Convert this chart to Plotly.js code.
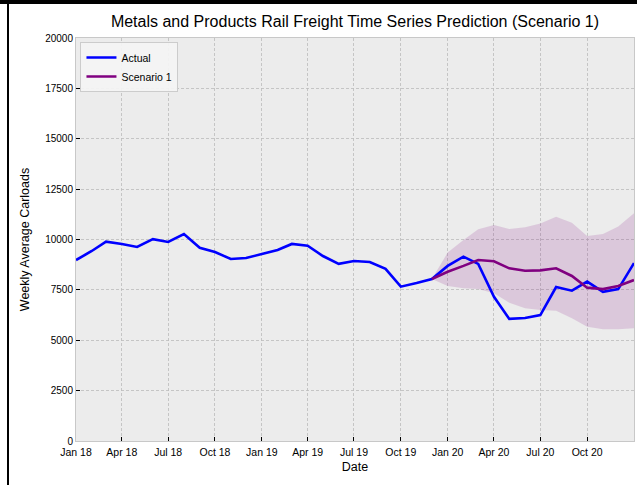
<!DOCTYPE html>
<html>
<head>
<meta charset="utf-8">
<script src="https://cdn.plot.ly/plotly-3.0.1.min.js"></script>
<style>
  html, body { margin: 0; padding: 0; background: #ffffff; }
  #wrap { position: relative; width: 637px; height: 485px; overflow: hidden; }
  #chart { position: absolute; left: 0; top: 0; width: 637px; height: 485px; }
  #topbar { position: absolute; left: 0; top: 0; width: 637px; height: 4px; background: #000; }
  #leftbar { position: absolute; left: 7px; top: 0; width: 2px; height: 485px; background: #000; }
</style>
</head>
<body>
<div id="wrap">
  <div id="chart"></div>
  <div id="topbar"></div>
  <div id="leftbar"></div>
</div>
<script>
// Monthly dates, Jan 2018 - Jan 2021
const actualDates = [
  '2018-01-01','2018-02-01','2018-03-01','2018-04-01','2018-05-01','2018-06-01',
  '2018-07-01','2018-08-01','2018-09-01','2018-10-01','2018-11-01','2018-12-01',
  '2019-01-01','2019-02-01','2019-03-01','2019-04-01','2019-05-01','2019-06-01',
  '2019-07-01','2019-08-01','2019-09-01','2019-10-01','2019-11-01','2019-12-01',
  '2020-01-01','2020-02-01','2020-03-01','2020-04-01','2020-05-01','2020-06-01',
  '2020-07-01','2020-08-01','2020-09-01','2020-10-01','2020-11-01','2020-12-01',
  '2021-01-01'
];
const actualValues = [
  8980, 9430, 9890, 9780, 9630, 10020,
  9880, 10270, 9590, 9380, 9030, 9080,
  9280, 9480, 9780, 9690, 9180, 8790,
  8930, 8880, 8540, 7660, 7840, 8040,
  8690, 9150, 8790, 7160, 6060, 6100,
  6250, 7640, 7460, 7910, 7400, 7540,
  8830
];

const scenarioDates = [
  '2019-12-01','2020-01-01','2020-02-01','2020-03-01','2020-04-01','2020-05-01',
  '2020-06-01','2020-07-01','2020-08-01','2020-09-01','2020-10-01','2020-11-01',
  '2020-12-01','2021-01-01'
];
const scenarioValues = [
  8040, 8400, 8690, 8980, 8920, 8570,
  8450, 8470, 8570, 8190, 7610, 7540,
  7690, 7990
];
const scenarioUpper = [
  8040, 9350, 9980, 10510, 10720, 10520,
  10610, 10800, 11130, 10830, 10170, 10270,
  10640, 11300
];
const scenarioLower = [
  8040, 7690, 7580, 7540, 7330, 6860,
  6590, 6500, 6470, 6090, 5670, 5540,
  5540, 5590
];

const yTicks = [0, 2500, 5000, 7500, 10000, 12500, 15000, 17500, 20000];

const traces = [
  {
    x: scenarioDates, y: scenarioLower, type: 'scatter', mode: 'lines',
    line: {width: 0, color: 'rgba(128,0,128,0)'}, showlegend: false, hoverinfo: 'skip'
  },
  {
    x: scenarioDates, y: scenarioUpper, type: 'scatter', mode: 'lines',
    fill: 'tonexty', fillcolor: 'rgba(128,0,128,0.15)',
    line: {width: 0, color: 'rgba(128,0,128,0)'}, showlegend: false, hoverinfo: 'skip'
  },
  {
    x: actualDates, y: actualValues, type: 'scatter', mode: 'lines',
    name: 'Actual', line: {color: '#0000ff', width: 2.6}
  },
  {
    x: scenarioDates, y: scenarioValues, type: 'scatter', mode: 'lines',
    name: 'Scenario 1', line: {color: '#800080', width: 2.6}
  }
];

const font = 'Liberation Sans, Arial, Helvetica, sans-serif';

const layout = {
  width: 637, height: 485,
  margin: {l: 76, r: 3, t: 38, b: 44},
  paper_bgcolor: '#ffffff',
  plot_bgcolor: '#ececec',
  font: {family: font, color: '#000000', size: 10},
  title: {
    text: 'Metals and Products Rail Freight Time Series Prediction (Scenario 1)',
    font: {family: font, size: 16, color: '#000000'},
    x: 0.5, xref: 'paper', xanchor: 'center',
    y: 0.955, yref: 'container', yanchor: 'middle'
  },
  xaxis: {
    type: 'date',
    range: ['2018-01-01', '2021-01-01'],
    dtick: 'M3', tick0: '2018-01-01',
    tickformat: '%b %y',
    ticks: 'inside', ticklen: 4, tickcolor: '#000000', tickwidth: 1,
    showgrid: true, gridcolor: '#bcbcbc', griddash: '3px,2px', gridwidth: 0.8,
    showline: true, mirror: true, linecolor: '#c8c8c8', linewidth: 1,
    zeroline: false,
    ticklabelstandoff: 1,
    tickfont: {family: font, size: 10.5, color: '#000000'},
    title: {text: 'Date', font: {family: font, size: 12.5, color: '#000000'}, standoff: 5}
  },
  yaxis: {
    range: [0, 20000],
    tickvals: yTicks,
    ticktext: yTicks.map(String),
    ticks: 'inside', ticklen: 4, tickcolor: '#000000', tickwidth: 1,
    showgrid: true, gridcolor: '#bcbcbc', griddash: '3px,2px', gridwidth: 0.8,
    showline: true, mirror: true, linecolor: '#c8c8c8', linewidth: 1,
    zeroline: false,
    tickfont: {family: font, size: 10, color: '#000000'},
    title: {text: 'Weekly Average Carloads', font: {family: font, size: 12.5, color: '#000000'}, standoff: 12}
  },
  legend: {
    x: 0.008, y: 0.99, xanchor: 'left', yanchor: 'top',
    traceorder: 'normal',
    itemwidth: 30,
    bgcolor: 'rgba(245,245,245,0.9)', bordercolor: '#cccccc', borderwidth: 1,
    font: {family: font, size: 10.5, color: '#000000'},
    tracegroupgap: 0
  },
  showlegend: true
};

Plotly.newPlot('chart', traces, layout, {displayModeBar: false, staticPlot: true});
</script>
</body>
</html>
